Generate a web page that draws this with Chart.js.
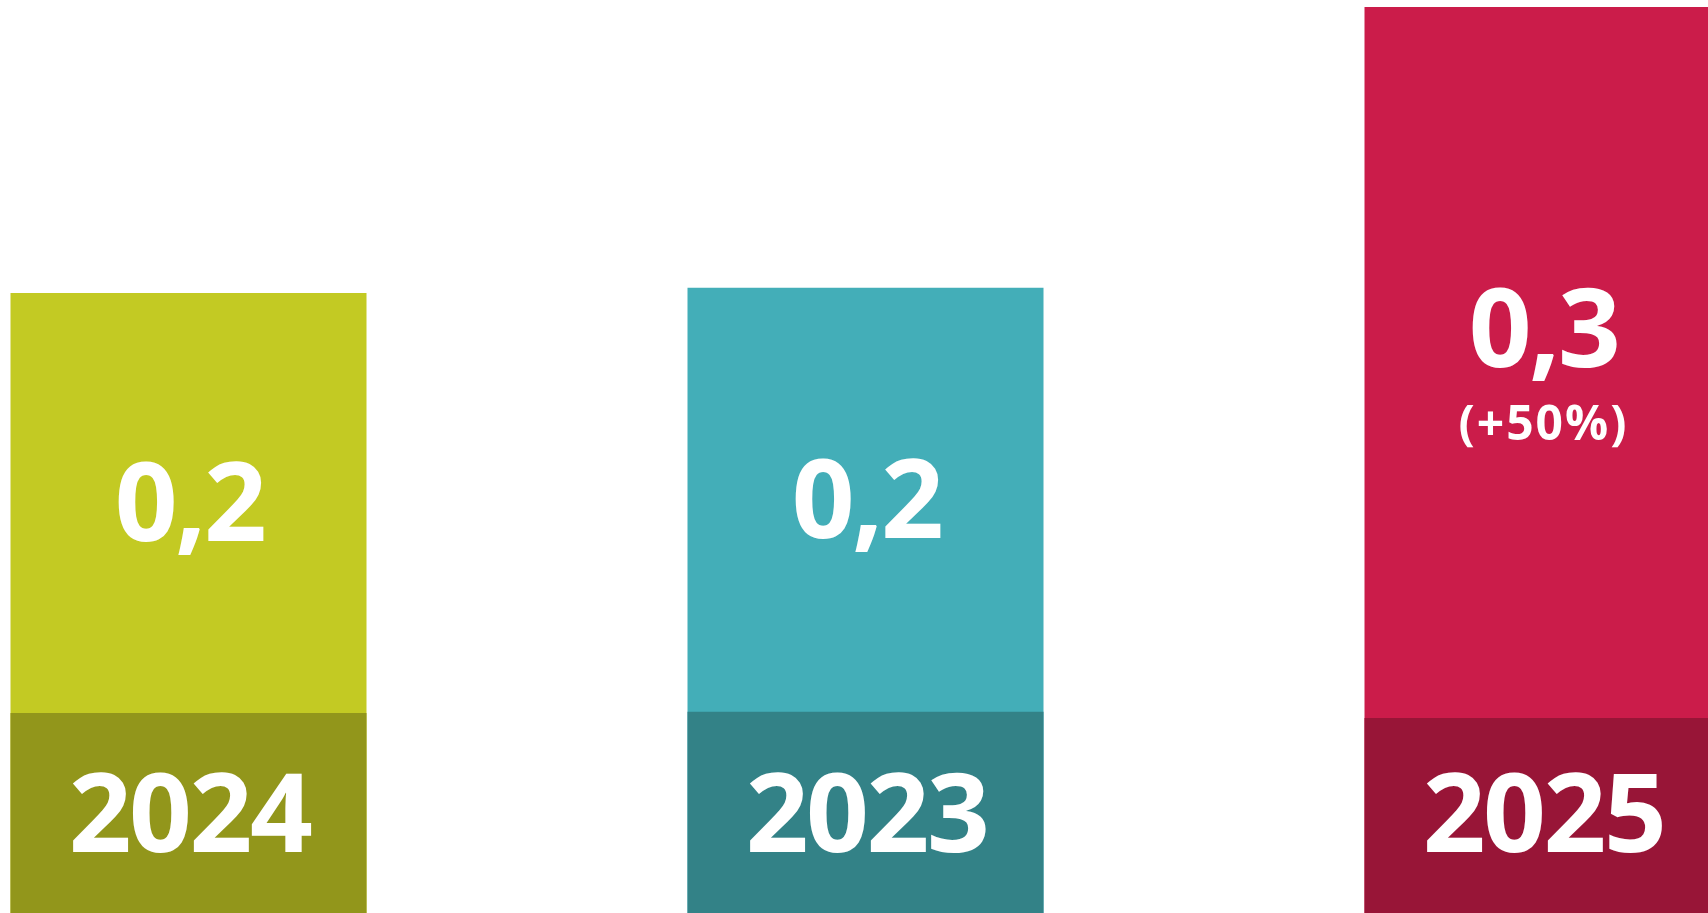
<!DOCTYPE html>
<html>
<head>
<meta charset="utf-8">
<script src="https://cdn.jsdelivr.net/npm/chart.js@4/dist/chart.umd.min.js"></script>
<style>
  html, body { margin: 0; padding: 0; background: #fff; overflow: hidden; }
  body { width: 1708px; height: 913px; position: relative; }
  #chartBar { position: absolute; left: -150px; top: 0; }
</style>
</head>
<body>
<canvas id="chartBar" width="2031" height="913"></canvas>
<script>
// data
const years = ["2024", "2023", "2025"];
const values = [0.2053, 0.207, 0.3];
const changes = ["", "", "(+50%)"];
const yearBand = [0.0662, 0.0666, 0.0646];

const lightColors = ["#C3CA23", "#43AEB8", "#CB1C4A"];
const darkColors = ["#92961B", "#338287", "#981537"];

const FONT = "'Open Sans', 'Noto Sans', sans-serif";
const DIGIT = 0.714; // digit height / font size for Open Sans

// labels drawn in the middle of each part of the bars
const barLabels = {
  id: "barLabels",
  afterDatasetsDraw(chart) {
    const ctx = chart.ctx;
    const valueMeta = chart.getDatasetMeta(1);
    const bandMeta = chart.getDatasetMeta(0);
    ctx.save();
    ctx.fillStyle = "#fff";
    ctx.textAlign = "center";
    ctx.textBaseline = "alphabetic";

    valueMeta.data.forEach((bar, i) => {
      const band = bandMeta.data[i];
      const x = bar.x;

      // value (+ change) in the light part
      const mainSize = 110, subSize = 48, gap = 39;
      const mainH = mainSize * DIGIT;
      const subH = subSize * DIGIT;
      const blockH = changes[i] ? mainH + gap + subH : mainH;
      const mid = (bar.y + band.y) / 2 + (changes[i] ? 2 : -1.5);
      const top = mid - blockH / 2;
      ctx.font = "bold " + mainSize + "px " + FONT;
      ctx.letterSpacing = "-2.5px";
      ctx.fillText(values[i].toFixed(1).replace(".", ","), x + 1, top + mainH);
      if (changes[i]) {
        ctx.font = "bold " + subSize + "px " + FONT;
        ctx.letterSpacing = "2px";
        ctx.fillText(changes[i], x + 1, top + mainH + gap + subH);
      }

      // year in the dark band
      ctx.font = "bold 110px " + FONT;
      ctx.letterSpacing = "-2.5px";
      const yc = chart.chartArea.bottom - 100.5;
      ctx.fillText(years[i], x + 1, yc + 110 * DIGIT / 2);
    });
    ctx.restore();
  }
};

const dataBarChart = {
  labels: years,
  datasets: [
    {
      label: "year",
      data: yearBand,
      backgroundColor: darkColors,
      borderWidth: 0,
      grouped: false,
      order: 0,
    },
    {
      label: "value",
      data: values,
      backgroundColor: lightColors,
      borderWidth: 0,
      grouped: false,
      order: 1,
    },
  ],
};

const configBarChart = {
  type: "bar",
  data: dataBarChart,
  options: {
    responsive: false,
    animation: false,
    layout: { padding: { top: 7, left: 0, right: 0, bottom: 0 } },
    datasets: { bar: { barPercentage: 356 / 677, categoryPercentage: 1 } },
    scales: {
      x: { display: false },
      y: { display: false, min: 0, max: 0.3 },
    },
    plugins: {
      legend: { display: false },
      tooltip: { enabled: false },
    },
  },
  plugins: [barLabels],
};

var canvas = document.getElementById("chartBar");
var chartBar = new Chart(canvas, configBarChart);
</script>
</body>
</html>
